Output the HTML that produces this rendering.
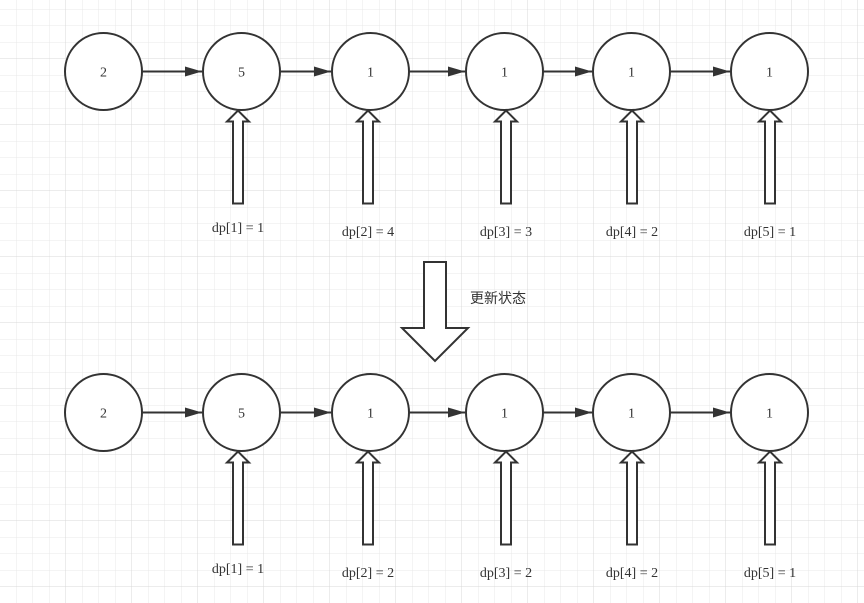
<!DOCTYPE html>
<html><head><meta charset="utf-8"><style>
html,body{margin:0;padding:0;background:#fff;}
svg{display:block;}
text{font-family:"Liberation Serif",serif;font-size:14px;fill:#333;}
</style></head><body>
<svg width="864" height="603" viewBox="0 0 864 603" xmlns="http://www.w3.org/2000/svg">
<defs>
<pattern id="minor" x="0" y="-7" width="16.5" height="16.5" patternUnits="userSpaceOnUse">
<path d="M16.5 0V16.5M0 16.5H16.5" stroke="#e8e8e8" stroke-width="1" fill="none"/>
</pattern>
<pattern id="major" x="0" y="-7" width="66" height="66" patternUnits="userSpaceOnUse">
<path d="M66 0V66M0 66H66" stroke="#d9d9d9" stroke-width="1" fill="none"/>
</pattern>
<marker id="ah" markerWidth="18" markerHeight="12" refX="17" refY="6" orient="auto" markerUnits="userSpaceOnUse">
<path d="M0,1 L17,6 L0,11 Z" fill="#333"/>
</marker>
<g id="row">
<g fill="#fff" stroke="#333" stroke-width="2">
<circle cx="103.5" cy="0" r="38.5"/><circle cx="241.5" cy="0" r="38.5"/><circle cx="370.5" cy="0" r="38.5"/>
<circle cx="504.5" cy="0" r="38.5"/><circle cx="631.5" cy="0" r="38.5"/><circle cx="769.5" cy="0" r="38.5"/>
</g>
<g stroke="#333" stroke-width="2" marker-end="url(#ah)">
<line x1="142" y1="0" x2="202" y2="0"/><line x1="280" y1="0" x2="331" y2="0"/><line x1="409" y1="0" x2="465" y2="0"/>
<line x1="543" y1="0" x2="592" y2="0"/><line x1="670" y1="0" x2="730" y2="0"/>
</g>
<g fill="#fff" stroke="#333" stroke-width="2">
<path d="M233,132 L233,50 L227,50 L238,39 L249,50 L243,50 L243,132 Z"/>
<path d="M363,132 L363,50 L357,50 L368,39 L379,50 L373,50 L373,132 Z"/>
<path d="M501,132 L501,50 L495,50 L506,39 L517,50 L511,50 L511,132 Z"/>
<path d="M627,132 L627,50 L621,50 L632,39 L643,50 L637,50 L637,132 Z"/>
<path d="M765,132 L765,50 L759,50 L770,39 L781,50 L775,50 L775,132 Z"/>
</g>
<g text-anchor="middle">
<text x="103.5" y="5">2</text><text x="241.5" y="5">5</text><text x="370.5" y="5">1</text>
<text x="504.5" y="5">1</text><text x="631.5" y="5">1</text><text x="769.5" y="5">1</text>
</g>
</g>
</defs>
<rect width="864" height="603" fill="url(#minor)"/>
<rect width="864" height="603" fill="url(#major)"/>
<use href="#row" y="71.5"/>
<use href="#row" y="412.5"/>
<g text-anchor="middle">
<text x="238" y="232">dp[1] = 1</text><text x="368" y="236">dp[2] = 4</text><text x="506" y="236">dp[3] = 3</text>
<text x="632" y="236">dp[4] = 2</text><text x="770" y="236">dp[5] = 1</text>
<text x="238" y="573">dp[1] = 1</text><text x="368" y="577">dp[2] = 2</text><text x="506" y="577">dp[3] = 2</text>
<text x="632" y="577">dp[4] = 2</text><text x="770" y="577">dp[5] = 1</text>
</g>
<path d="M424,262 L446,262 L446,328 L468,328 L435,361 L402,328 L424,328 Z" fill="#fff" stroke="#333" stroke-width="2"/>
<text x="470" y="303" style="font-family:'Liberation Sans','Noto Sans CJK SC',sans-serif;font-size:14px">更新状态</text>
</svg>
</body></html>
